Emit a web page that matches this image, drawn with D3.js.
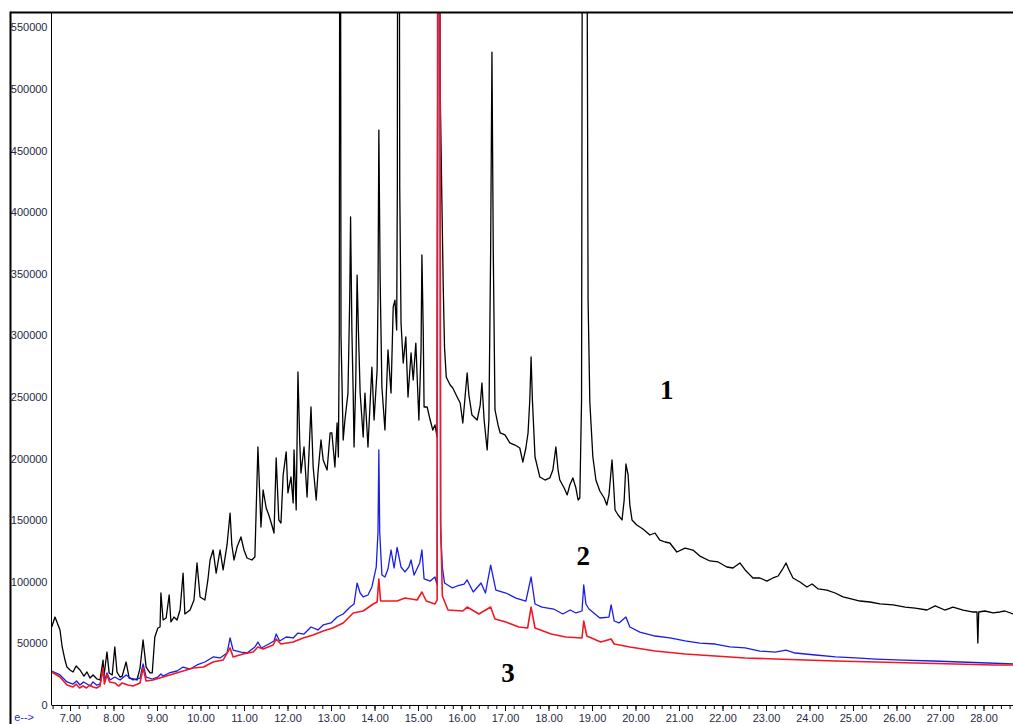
<!DOCTYPE html>
<html>
<head>
<meta charset="utf-8">
<script src="https://cdn.jsdelivr.net/npm/d3@7"></script>
<style>
  body { margin: 0; background: #fff; }
  .ylab, .xlab { font-family: "Liberation Sans", Arial, sans-serif; font-size: 11px; fill: #1f2a44; }
  .trace-label { font-family: "Liberation Serif", "Times New Roman", serif; font-size: 27px; font-weight: bold; fill: #000; }
</style>
</head>
<body>
<div class="chart"></div>
<script>
// Chromatogram traces: [retention time (min), abundance]
var trace1 = [[6.58,63300],[6.655,71400],[6.77,60900],[6.82,47100],[6.885,36500],[6.93,30800],[7.00,28400],[7.07,26800],[7.14,31700],[7.23,28400],[7.32,23500],[7.39,26800],[7.46,21900],[7.53,24400],[7.62,21100],[7.69,20300],[7.76,36500],[7.78,23500],[7.85,43000],[7.90,26000],[7.97,24400],[8.03,47100],[8.08,26800],[8.15,22700],[8.20,23500],[8.29,34900],[8.36,21900],[8.45,21100],[8.54,20300],[8.61,30000],[8.68,52800],[8.75,30800],[8.84,26000],[8.89,26000],[8.95,55200],[9.02,62500],[9.07,63300],[9.09,90900],[9.14,69000],[9.21,70600],[9.28,89300],[9.32,67400],[9.39,71400],[9.46,69000],[9.53,77100],[9.60,107100],[9.64,73900],[9.76,77100],[9.85,85200],[9.92,115300],[9.99,87700],[10.10,85200],[10.17,101500],[10.22,117700],[10.29,125800],[10.36,107100],[10.45,125800],[10.52,109600],[10.61,129900],[10.68,155800],[10.72,129900],[10.77,117700],[10.84,128200],[10.93,136400],[11.00,125800],[11.07,119300],[11.18,117700],[11.25,120100],[11.32,209400],[11.39,144500],[11.44,174500],[11.51,159900],[11.57,154200],[11.64,146100],[11.69,139600],[11.74,200500],[11.80,150200],[11.85,147700],[11.90,186700],[11.97,205400],[12.01,172100],[12.08,185100],[12.13,164000],[12.15,207000],[12.20,158300],[12.24,270300],[12.28,215100],[12.31,188300],[12.38,209400],[12.45,168800],[12.54,241900],[12.59,193200],[12.66,166400],[12.70,188300],[12.77,215100],[12.82,198900],[12.91,190700],[12.98,220800],[13.02,220800],[13.09,193200],[13.14,228900],[13.17,201300],[13.19,300000],[13.21,950000],[13.23,300000],[13.28,215100],[13.32,231300],[13.39,253200],[13.43,328700],[13.45,396100],[13.48,304400],[13.51,253200],[13.53,209400],[13.57,263800],[13.60,349000],[13.63,304400],[13.67,253200],[13.74,217500],[13.78,253200],[13.85,209400],[13.94,274300],[13.99,231300],[14.06,271900],[14.08,328700],[14.10,466700],[14.13,345000],[14.17,258100],[14.24,223200],[14.31,288200],[14.38,253200],[14.43,323100],[14.47,328700],[14.51,304400],[14.525,420000],[14.54,950000],[14.56,950000],[14.58,420000],[14.61,310100],[14.66,277600],[14.72,298700],[14.77,250000],[14.84,285700],[14.89,263800],[14.95,293800],[15.02,231300],[15.07,288200],[15.09,365300],[15.12,304400],[15.14,241900],[15.21,241900],[15.28,231300],[15.34,223200],[15.39,227300],[15.44,217500],[15.47,950000],[15.51,500000],[15.55,407000],[15.58,340000],[15.61,290000],[15.65,266000],[15.74,259700],[15.80,257300],[15.90,250000],[15.97,245100],[16.03,228900],[16.13,269500],[16.17,251600],[16.24,235400],[16.36,231300],[16.43,243500],[16.47,261400],[16.52,231300],[16.59,207000],[16.63,231300],[16.67,369300],[16.70,530000],[16.73,369300],[16.77,239500],[16.84,227300],[16.89,220800],[17.00,219200],[17.11,212700],[17.23,211000],[17.34,208600],[17.41,197200],[17.48,208600],[17.53,220800],[17.57,247600],[17.60,282500],[17.63,247600],[17.69,201300],[17.80,185100],[17.92,182600],[18.03,184300],[18.10,190700],[18.17,209400],[18.22,190700],[18.26,182600],[18.36,176100],[18.43,170500],[18.49,178600],[18.56,184300],[18.63,176100],[18.68,166400],[18.72,168000],[18.76,247600],[18.79,950000],[18.86,950000],[18.91,328700],[18.95,245900],[19.02,201300],[19.09,182600],[19.18,173700],[19.28,168000],[19.34,162300],[19.39,170500],[19.44,190700],[19.46,198900],[19.49,182600],[19.53,158300],[19.60,154200],[19.69,150200],[19.74,166400],[19.78,195600],[19.83,186700],[19.87,162300],[19.92,150200],[20.03,146100],[20.17,142900],[20.33,138000],[20.45,139600],[20.56,133900],[20.68,132300],[20.79,131500],[20.95,124200],[21.14,127400],[21.32,125800],[21.48,120900],[21.71,116900],[21.90,116100],[22.10,112000],[22.24,111200],[22.40,115300],[22.52,109600],[22.70,103100],[22.86,103100],[23.02,100600],[23.16,103100],[23.28,104700],[23.37,109600],[23.46,115300],[23.53,109600],[23.62,103100],[23.78,99800],[23.94,95800],[24.06,98200],[24.20,94200],[24.40,93300],[24.59,90900],[24.77,87700],[24.98,86000],[25.16,84400],[25.39,83600],[25.62,82000],[25.92,81200],[26.20,79500],[26.43,78700],[26.70,77100],[26.89,80400],[27.11,77100],[27.30,79500],[27.53,77100],[27.74,75500],[27.85,75500],[27.87,50300],[27.89,75500],[28.03,76300],[28.22,74700],[28.38,75500],[28.49,76300],[28.68,73900]];

var trace2 = [[6.58,27600],[6.77,24400],[6.93,18700],[7.07,17000],[7.15,19500],[7.23,16200],[7.31,18700],[7.39,17000],[7.46,15400],[7.53,18700],[7.61,16200],[7.69,17000],[7.76,28400],[7.80,20300],[7.85,26000],[7.92,20300],[8.03,22700],[8.15,20300],[8.29,24400],[8.45,20300],[8.61,21900],[8.68,33300],[8.75,22700],[8.89,21100],[9.02,22700],[9.09,25200],[9.14,23500],[9.28,26000],[9.46,27600],[9.60,30800],[9.76,29200],[9.92,32500],[10.10,34900],[10.29,39000],[10.45,38200],[10.61,42200],[10.68,54400],[10.75,44600],[10.93,43000],[11.07,42200],[11.25,47100],[11.32,51100],[11.40,46300],[11.57,49500],[11.69,52000],[11.74,57600],[11.82,52000],[11.97,55200],[12.13,54400],[12.24,58400],[12.38,57600],[12.54,63300],[12.70,60900],[12.82,65000],[13.00,66600],[13.14,71400],[13.28,73900],[13.44,79500],[13.53,82000],[13.60,99000],[13.67,90900],[13.74,87700],[13.85,89300],[13.94,95800],[14.04,112000],[14.08,140000],[14.10,207000],[14.12,140000],[14.17,105500],[14.24,103900],[14.31,110400],[14.38,125800],[14.45,111200],[14.52,128000],[14.61,112000],[14.70,108000],[14.79,112000],[14.84,117700],[14.91,105500],[15.04,115300],[15.09,125800],[15.14,102300],[15.28,100600],[15.39,103900],[15.44,97400],[15.465,950000],[15.49,950000],[15.52,140000],[15.56,112000],[15.61,99000],[15.79,95000],[15.90,96600],[16.06,98200],[16.13,101500],[16.27,91700],[16.45,99000],[16.55,90900],[16.67,113600],[16.79,93300],[17.02,90900],[17.25,86800],[17.48,84400],[17.60,103900],[17.69,82000],[17.85,79500],[18.12,77900],[18.33,73900],[18.50,77100],[18.63,74700],[18.77,76300],[18.81,97400],[18.86,82000],[18.93,77900],[19.18,70600],[19.39,71400],[19.44,81200],[19.51,68200],[19.62,66600],[19.78,71400],[19.87,63300],[20.10,59200],[20.45,56000],[20.79,54400],[21.14,52000],[21.48,50300],[21.83,49500],[22.17,47100],[22.52,46300],[22.86,43800],[23.21,43000],[23.46,44600],[23.67,42200],[24.14,40600],[24.60,39000],[25.06,38200],[25.52,37300],[26.15,36500],[26.84,35700],[27.47,34900],[28.10,34100],[28.68,33300]];

var trace3 = [[6.58,26800],[6.77,22700],[6.93,16200],[7.07,14600],[7.14,17000],[7.22,13800],[7.30,15400],[7.38,13800],[7.45,16200],[7.53,14600],[7.61,13800],[7.69,15400],[7.76,30000],[7.79,17000],[7.85,24400],[7.91,18700],[8.03,17900],[8.12,15400],[8.20,17900],[8.33,16200],[8.45,15400],[8.61,17900],[8.68,30000],[8.75,19500],[8.91,20300],[9.14,22700],[9.37,25200],[9.60,27600],[9.83,30000],[10.07,30800],[10.29,34900],[10.52,36500],[10.68,46300],[10.75,39000],[10.98,41400],[11.21,43000],[11.32,47100],[11.44,45500],[11.67,48700],[11.74,53600],[11.85,49500],[12.13,51100],[12.36,54400],[12.59,56800],[12.82,60100],[13.04,62500],[13.28,66600],[13.51,74700],[13.74,76300],[13.97,82000],[14.06,83600],[14.10,102300],[14.14,84400],[14.31,84400],[14.52,84400],[14.70,86800],[14.98,85200],[15.09,91700],[15.19,84400],[15.39,82000],[15.44,85200],[15.46,950000],[15.49,950000],[15.52,150000],[15.56,88500],[15.69,77100],[16.03,76300],[16.13,79500],[16.40,73900],[16.67,79500],[16.77,69800],[17.02,67400],[17.32,63300],[17.52,62500],[17.60,79500],[17.69,62500],[18.06,57600],[18.40,55200],[18.77,54400],[18.81,68200],[18.88,56000],[19.20,51100],[19.44,53600],[19.51,49500],[19.87,47100],[20.45,43800],[21.14,41400],[21.83,39800],[22.52,38200],[23.21,37300],[23.90,36500],[24.60,35700],[25.52,34900],[26.43,34100],[27.35,33300],[28.22,32500],[28.68,32500]];

var yTicks = [0, 50000, 100000, 150000, 200000, 250000, 300000, 350000, 400000, 450000, 500000, 550000];
var xTicks = [7, 8, 9, 10, 11, 12, 13, 14, 15, 16, 17, 18, 19, 20, 21, 22, 23, 24, 25, 26, 27, 28];
var traceNames = ["1", "2", "3"];
var traceColors = ["#000000", "#1c1ce6", "#f01822"];

var svgWidth = 1013, svgHeight = 724;
var frameLeft = 10.5, frameTop = 12.5;
var plotLeft = 51.5, plotRight = 1013, plotBottom = 705;

var svg = d3.select(".chart")
  .append("svg")
  .attr("width", svgWidth)
  .attr("height", svgHeight);

var x = d3.scaleLinear().domain([7, 28]).range([70, 983.5]);
var y = d3.scaleLinear().domain([0, 550000]).range([plotBottom, 27.4]);

svg.append("defs").append("clipPath").attr("id", "plotclip")
  .append("rect")
  .attr("x", plotLeft).attr("y", frameTop)
  .attr("width", plotRight - plotLeft).attr("height", plotBottom - frameTop);

// y labels, no tick marks
var yAxis = svg.append("g")
  .attr("transform", `translate(${plotLeft - 4}, 0)`)
  .call(d3.axisLeft(y).tickValues(yTicks).tickSize(0).tickPadding(0).tickFormat(d3.format("d")));
yAxis.select(".domain").remove();
yAxis.selectAll("text").attr("class", "ylab").attr("font-size", null).attr("font-family", null);

// x axis with minor ticks every 0.2 min
var minorTicks = d3.range(6.6, 28.7, 0.2).map(d => +d.toFixed(1));
var xMinor = svg.append("g")
  .attr("transform", `translate(0, ${plotBottom})`)
  .call(d3.axisBottom(x).tickValues(minorTicks).tickSize(4).tickFormat(""));
xMinor.select(".domain").remove();
xMinor.selectAll("line").attr("stroke", "#000");

var xAxis = svg.append("g")
  .attr("transform", `translate(0, ${plotBottom})`)
  .call(d3.axisBottom(x).tickValues(xTicks).tickSize(6).tickPadding(3).tickFormat(d3.format(".2f")));
xAxis.select(".domain").remove();
xAxis.selectAll("line").attr("stroke", "#000");
xAxis.selectAll("text").attr("class", "xlab").attr("font-size", null).attr("font-family", null);

// time arrow at the lower left
svg.append("text")
  .attr("x", 34).attr("y", 721)
  .attr("text-anchor", "end")
  .attr("font-family", "Liberation Sans, Arial, sans-serif")
  .attr("font-size", 11)
  .attr("fill", "#2a2ad0")
  .text("e-->");

// traces
var line = d3.line().x(d => x(d[0])).y(d => y(d[1]));
var traces = svg.append("g").attr("clip-path", "url(#plotclip)");
[trace1, trace2, trace3].forEach(function(data, i) {
  traces.append("path")
    .datum(data)
    .attr("fill", "none")
    .attr("stroke", traceColors[i])
    .attr("stroke-width", i === 2 ? 1.6 : 1.3)
    .attr("stroke-linejoin", "round")
    .attr("d", line);
});

// frame and axis lines
svg.append("line").attr("x1", frameLeft).attr("x2", svgWidth).attr("y1", frameTop).attr("y2", frameTop)
  .attr("stroke", "#000").attr("stroke-width", 2);
svg.append("line").attr("x1", frameLeft).attr("x2", frameLeft).attr("y1", frameTop - 1).attr("y2", svgHeight)
  .attr("stroke", "#000").attr("stroke-width", 2);
svg.append("line").attr("x1", plotLeft).attr("x2", plotLeft).attr("y1", frameTop).attr("y2", plotBottom)
  .attr("stroke", "#000").attr("stroke-width", 1);
svg.append("line").attr("x1", plotLeft).attr("x2", plotRight).attr("y1", plotBottom + 0.5).attr("y2", plotBottom + 0.5)
  .attr("stroke", "#000").attr("stroke-width", 1);

// trace numbers
var labelPos = [[20.72, 248000], [18.8, 114000], [17.07, 19000]];
svg.selectAll(".trace-label")
  .data(traceNames)
  .enter()
  .append("text")
  .attr("class", "trace-label")
  .attr("text-anchor", "middle")
  .attr("x", (d, i) => x(labelPos[i][0]))
  .attr("y", (d, i) => y(labelPos[i][1]))
  .text(d => d);
</script>
</body>
</html>
